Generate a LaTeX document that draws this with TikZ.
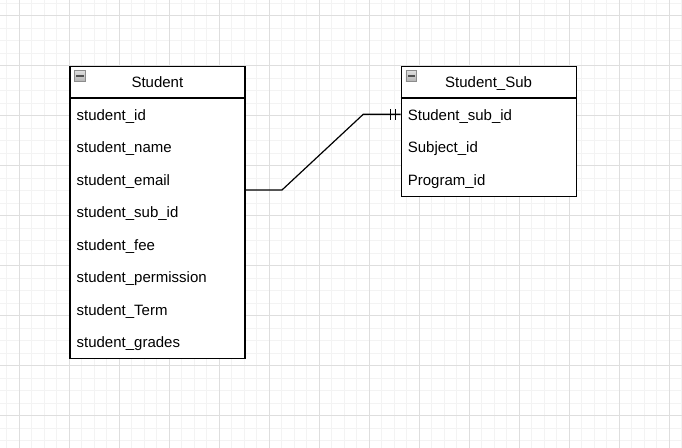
\documentclass[tikz,border=0pt]{standalone}
\usepackage{fontspec}
\setmainfont{Liberation Sans}
\usetikzlibrary{calc}
\definecolor{gridminor}{RGB}{243,243,243}
\definecolor{gridmajor}{RGB}{222,222,222}
\definecolor{iconborder}{RGB}{140,140,140}
\definecolor{iconfilltop}{RGB}{222,222,222}
\definecolor{iconfillbot}{RGB}{180,180,180}
\definecolor{iconminus}{RGB}{80,80,80}
\begin{document}
\begin{tikzpicture}[x=0.75pt,y=-0.75pt,
  font=\fontsize{11.25pt}{13.5pt}\selectfont,
  minorline/.style={draw=gridminor,line width=0.75pt},
  majorline/.style={draw=gridmajor,line width=0.75pt},
  tbl/.style={draw=black,line width=0.9pt,fill=white,anchor=north west,minimum width=131.25pt,inner sep=0pt},
  tline/.style={draw=black,line width=0.9pt},
  hdr/.style={inner sep=0pt,text height=8.6pt,text depth=0pt},
  rowbox/.style={anchor=west,minimum width=131.25pt,minimum height=24.375pt,text width=120.65pt,align=left,inner xsep=5.3pt,inner ysep=0pt,text height=8.6pt,text depth=0pt},
  icon/.style={draw=iconborder,line width=0.6pt,top color=iconfilltop,bottom color=iconfillbot,minimum size=7.9pt,inner sep=0pt,
    path picture={\fill[iconminus] ($(path picture bounding box.center)+(-2.7pt,-0.55pt)$) rectangle ($(path picture bounding box.center)+(2.7pt,0.55pt)$);}},
  conn/.style={draw=black,line width=0.9pt}
]
\useasboundingbox (0,0) rectangle (682,448);
\fill[white] (0,0) rectangle (682,448);
% grid
\foreach \i in {0,...,54} {\draw[minorline] ({6.8+12.5*\i},0) -- ({6.8+12.5*\i},448);}
\foreach \j in {0,...,35} {\draw[minorline] (0,{3.1+12.5*\j}) -- (682,{3.1+12.5*\j});}
\foreach \i in {0,...,13} {\draw[majorline] ({19.3+50*\i},0) -- ({19.3+50*\i},448);}
\foreach \j in {0,...,8} {\draw[majorline] (0,{15.6+50*\j}) -- (682,{15.6+50*\j});}

% Student table
\node[tbl,minimum height=219.375pt] (student) at (69.3,65.6) {};
\draw[tline] ($(student.north west)+(0,32.5)$) -- ($(student.north east)+(0,32.5)$);
\node[hdr] (studenthdr) at ($(student.north)+(0,16.25)$) {Student};
\node[icon] (studenticon) at (80,76) {};
\foreach \t [count=\k] in {student\_id,student\_name,student\_email,student\_sub\_id,student\_fee,student\_permission,student\_Term,student\_grades}{
  \node[rowbox] (s\k) at ($(student.north west)+(0,{32.5+32.5*\k-16.25})$) {\t};
}

% Student_Sub table
\node[tbl,minimum height=97.5pt] (sub) at (400.5,65.6) {};
\draw[tline] ($(sub.north west)+(0,32.5)$) -- ($(sub.north east)+(0,32.5)$);
\node[hdr] (subhdr) at ($(sub.north)+(0,16.25)$) {Student\_Sub};
\node[icon] (subicon) at (411.2,76) {};
\foreach \t [count=\k] in {Student\_sub\_id,Subject\_id,Program\_id}{
  \node[rowbox] (ss\k) at ($(sub.north west)+(0,{32.5+32.5*\k-16.25})$) {\t};
}

% connector
\coordinate (fk) at (244.3,190);
\draw[conn] (fk) -- (282,190) -- (363.3,114.25) -- (ss1.west);
\draw[conn] ($(ss1.west)+(-10.2,-5.25)$) -- ($(ss1.west)+(-10.2,5.25)$);
\draw[conn] ($(ss1.west)+(-5.2,-5.25)$) -- ($(ss1.west)+(-5.2,5.25)$);
\end{tikzpicture}
\end{document}
